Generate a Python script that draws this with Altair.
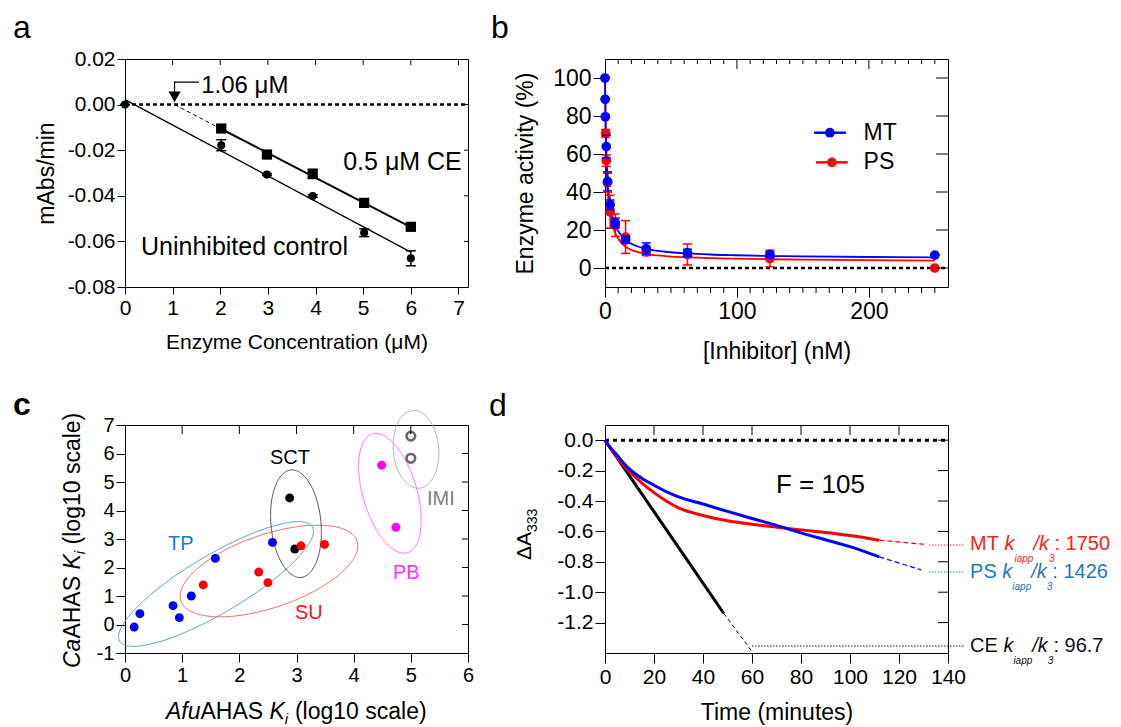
import altair as alt
import numpy as np
import pandas as pd

FONT = "Liberation Sans"
W, H = 343, 228

# ---------------- panel a data ----------------
a_ctrl_x = [0.0, 2.02, 2.98, 3.94, 5.02, 6.0]
a_ctrl_y = [0.0, -0.0178, -0.0307, -0.0401, -0.0562, -0.0674]
a_ctrl_err = [0.0, 0.0024, 0.0004, 0.0005, 0.0017, 0.0033]
a_ce_x = [2.02, 2.98, 3.94, 5.02, 6.0]
a_ce_y = [-0.0105, -0.0219, -0.0304, -0.0431, -0.0536]
a_ce_err = [0.0006, 0.0007, 0.0020, 0.0010, 0.0006]
a_fit_ctrl_x = [0.0, 6.0]
a_fit_ctrl_y = [0.0022, -0.0647]
a_fit_ce_x = [2.02, 6.0]
a_fit_ce_y = [-0.0107, -0.0537]
a_ext_x = [1.04, 2.02]
a_ext_y = [0.0, -0.0107]
a_xticks = [0, 1, 2, 3, 4, 5, 6, 7]
a_yticks = [-0.08, -0.06, -0.04, -0.02, 0.0, 0.02]

# ---------------- panel b data ----------------
b_mt_x = [0, 0.12, 0.24, 0.98, 1.95, 3.9, 7.8, 15.6, 31.25, 62.5, 125, 250]
b_mt_y = [100, 88.8, 79.6, 63.9, 45.6, 33.3, 23.7, 14.9, 10.2, 7.9, 7.0, 6.8]
b_mt_err = [0, 0, 0, 6, 5, 2.5, 2.6, 2.0, 3.0, 2.0, 1.5, 0]
b_ps_x = [0.49, 0.98, 1.95, 3.9, 7.8, 15.6, 31.25, 62.5, 125, 250]
b_ps_y = [70.9, 56.5, 44.9, 29.6, 22.5, 16.3, 8.5, 7.1, 5.0, 0.0]
b_ps_err = [2, 3, 5, 8.7, 5.9, 8.6, 2, 5.5, 4.4, 0]
b_curve_x = [0, 0.5, 1, 1.5, 2, 3, 4, 5, 6, 8, 10, 12, 15, 20, 25, 30, 40, 50, 60, 80, 100, 125, 150, 200, 250]
b_mt_curve = [100, 76, 62, 53, 46, 38, 32.5, 29, 26, 22, 19.5, 17.5, 15, 12.8, 11.3, 10.2, 9, 8.3, 7.8, 7.1, 6.7, 6.3, 6.1, 5.8, 5.6]
b_ps_curve = [100, 71, 56, 47, 41, 33, 28, 24.5, 22, 18, 15.5, 13.5, 11.5, 9.5, 8.4, 7.6, 6.6, 6.0, 5.7, 5.2, 4.9, 4.6, 4.4, 4.1, 3.9]
b_series = ["MT", "PS"]
b_colors = ["#0000ff", "#ff0000"]

# ---------------- panel c data ----------------
c_tp_x = [0.16, 0.26, 0.84, 0.95, 1.16, 1.58, 2.58]
c_tp_y = [-0.09, 0.38, 0.66, 0.24, 1.0, 2.32, 2.88]
c_su_x = [1.37, 2.34, 2.50, 3.08, 3.49]
c_su_y = [1.39, 1.84, 1.47, 2.76, 2.81]
c_sct_x = [2.88, 2.97]
c_sct_y = [4.44, 2.65]
c_pb_x = [4.49, 4.74]
c_pb_y = [5.59, 3.41]
c_imi_x = [5.0, 5.0]
c_imi_y = [6.61, 5.83]
ell_name = ["TP", "SU", "SCT", "PB", "IMI"]
ell_cx = [1.592, 2.519, 2.991, 4.635, 5.09]
ell_cy = [1.421, 1.877, 3.537, 4.604, 6.147]
ell_a = [112, 93, 54, 62, 39]          # semi-axes in screen px
ell_b = [29, 36.6, 25, 27, 22.7]
ell_ang = [30.7, 18.8, 95.3, 106.5, 95.0]
ell_color = ["#4a9ad8", "#f06060", "#444444", "#ff66ff", "#aaaaaa"]
c_lab_text = ["TP", "SCT", "SU", "PB", "IMI"]
c_lab_x = [0.752, 2.536, 2.974, 4.688, 5.283]
c_lab_y = [2.614, 5.632, 0.193, 1.596, 4.193]
c_lab_color = ["#1f78d0", "#000000", "#ff1010", "#ff33ff", "#808080"]

# ---------------- panel d data ----------------
d_ce_x = [0, 10, 20, 30, 40, 48.5]
d_ce_y = [0, -0.235, -0.47, -0.705, -0.94, -1.14]
d_ce_ext_x = [48.5, 59.6]
d_ce_ext_y = [-1.14, -1.382]
d_t = [0, 2.5, 5, 7.5, 10, 15, 20, 25, 30, 40, 50, 60, 70, 80, 90, 100, 112]
d_mt_y = [0, -0.06, -0.115, -0.165, -0.205, -0.28, -0.345, -0.40, -0.445, -0.495, -0.53, -0.553, -0.572, -0.59, -0.607, -0.627, -0.658]
d_ps_y = [0, -0.055, -0.10, -0.148, -0.19, -0.25, -0.296, -0.338, -0.373, -0.42, -0.468, -0.515, -0.56, -0.61, -0.655, -0.70, -0.768]
d_mt_ext_x = [112, 130.5]
d_mt_ext_y = [-0.658, -0.685]
d_ps_ext_x = [112, 129]
d_ps_ext_y = [-0.768, -0.853]
d_lab_name = ["MT", "PS", "CE"]
d_lab_value = ["1750", "1426", "96.7"]
d_lab_color = ["#ff2020", "#1f78c8", "#111111"]
d_lab_y = [-0.722, -0.907, -1.393]
d_lead_x0 = [132.2, 132.2, 60.0]
d_lead_x1 = [146.5, 146.5, 146.5]
d_lead_y = [-0.690, -0.867, -1.354]
d_lab_x = 149.0

ONE = pd.DataFrame({"k": [0]})


def df(**cols):
    return pd.DataFrame(cols)


def neg_fmt(p):
    return f"(datum.value < 0 ? '-' : '') + format(abs(datum.value), '{p}')"


def axis(values, size, tick, label_expr=None, title="", tsize=23, tx=None, ty=None, pad=3):
    kw = dict(values=values, tickSize=tick, labelFontSize=size, labelPadding=pad,
              labelFont=FONT, titleFont=FONT, titleFontWeight="normal", grid=False,
              domain=False, tickColor="black", labelColor="black", titleColor="black",
              title=title, titleFontSize=tsize, labelFlush=False, labelOverlap=False)
    if label_expr:
        kw["labelExpr"] = label_expr
    if title:
        kw["titleBaseline"] = "alphabetic"
        if tx is not None:
            kw["titleX"] = tx
        if ty is not None:
            kw["titleY"] = ty
    return alt.Axis(**kw)


class Panel:
    def __init__(self, xs, ys, ax, ay):
        self.xs, self.ys, self.ax, self.ay = xs, ys, ax, ay

    def X(self, f):
        return alt.X(f"{f}:Q", scale=self.xs, axis=self.ax)

    def Y(self, f):
        return alt.Y(f"{f}:Q", scale=self.ys, axis=self.ay)

    def hline(self, x0, x1, y, width=2.5, dash=(4, 3), color="black"):
        return alt.Chart(df(x0=[x0], x1=[x1], y=[y])).mark_rule(
            color=color, strokeWidth=width, strokeDash=list(dash)).encode(
            x=self.X("x0"), x2="x1:Q", y=self.Y("y"))

    def line(self, xv, yv, color="black", width=1.5, dash=None, interp="linear"):
        kw = dict(color=color, strokeWidth=width, interpolate=interp)
        if dash:
            kw["strokeDash"] = dash
        return alt.Chart(df(x=xv, y=yv, o=list(range(len(xv))))).mark_line(**kw).encode(
            x=self.X("x"), y=self.Y("y"), order="o:Q")

    def errbars(self, xv, yv, ev, color, cap):
        lo = [y - e for y, e in zip(yv, ev)]
        hi = [y + e for y, e in zip(yv, ev)]
        r = alt.Chart(df(x=xv, lo=lo, hi=hi)).mark_rule(color=color, strokeWidth=1.5).encode(
            x=self.X("x"), y=self.Y("lo"), y2="hi:Q")
        c = alt.Chart(df(x=xv + xv, yc=lo + hi)).mark_tick(
            orient="horizontal", size=cap, thickness=1.5, color=color, opacity=1).encode(
            x=self.X("x"), y=self.Y("yc"))
        return [r, c]

    def points(self, xv, yv, color, size, shape="circle", filled=True, sw=1):
        return alt.Chart(df(x=xv, y=yv)).mark_point(
            shape=shape, filled=filled, size=size, color=color, opacity=1, strokeWidth=sw).encode(
            x=self.X("x"), y=self.Y("y"))

    def text(self, s, x, y, size, color="black", style="normal", dx=0, dy=0, baseline="alphabetic"):
        return alt.Chart(df(x=[x], y=[y])).mark_text(
            text=s, font=FONT, fontSize=size, color=color, fontStyle=style, align="left",
            baseline=baseline, dx=dx, dy=dy).encode(x=self.X("x"), y=self.Y("y"))

    def top_ticks(self, vals, length):
        return alt.Chart(df(v=vals)).mark_rule(color="black", strokeWidth=1).encode(
            x=self.X("v"), y=alt.value(0), y2=alt.value(length))

    def bottom_ticks(self, vals, length):
        return alt.Chart(df(v=vals)).mark_rule(color="black", strokeWidth=1).encode(
            x=self.X("v"), y=alt.value(H), y2=alt.value(H + length))

    def right_ticks(self, vals, length):
        return alt.Chart(df(v=vals)).mark_rule(color="black", strokeWidth=1).encode(
            y=self.Y("v"), x=alt.value(W - length), x2=alt.value(W))


def vtext(s, x, y, size, color="black", style="normal", weight="normal", angle=0):
    return alt.Chart(ONE).mark_text(
        text=s, font=FONT, fontSize=size, color=color, fontStyle=style,
        fontWeight=weight, align="left", baseline="alphabetic", angle=angle
    ).encode(x=alt.value(x), y=alt.value(y))


# ================= panel a =================
A = Panel(alt.Scale(domain=[0, 7.2], nice=False, zero=False),
          alt.Scale(domain=[-0.08, 0.02], nice=False, zero=False),
          axis(a_xticks, 21, 7, title="Enzyme Concentration (μM)", tsize=21, ty=61),
          axis(a_yticks, 21, 8, label_expr=neg_fmt(".2f"), title="mAbs/min", tsize=23, tx=-72, pad=2))

a_layers = [
    A.hline(0, 7.2, 0),
    A.line(a_fit_ctrl_x, a_fit_ctrl_y, width=1.3),
    A.line(a_fit_ce_x, a_fit_ce_y, width=2),
    A.line(a_ext_x, a_ext_y, width=1, dash=[4, 3]),
]
a_layers += A.errbars(a_ctrl_x, a_ctrl_y, a_ctrl_err, "black", 10)
a_layers += A.errbars(a_ce_x, a_ce_y, a_ce_err, "black", 10)
a_layers += [
    A.points(a_ctrl_x, a_ctrl_y, "black", 65),
    A.points(a_ce_x, a_ce_y, "black", 105, shape="square"),
    A.points([1.04], [0.0034], "black", 150, shape="triangle-down"),
    A.line([1.04, 1.04, 1.55], [0.0055, 0.0099, 0.0099], width=1.2),
    A.text("1.06 μM", 1.6, 0.0051, 24),
    A.text("0.5 μM CE", 4.58, -0.0288, 25),
    A.text("Uninhibited control", 0.336, -0.066, 25),
    A.top_ticks([1, 2, 3, 4, 5, 6, 7], 6),
    A.right_ticks([-0.06, -0.04, -0.02, 0.0], 4),
    vtext("a", -112, -21, 32),
    alt.Chart(ONE).mark_rect(opacity=0).encode(
        x=alt.value(-116), x2=alt.value(-115), y=alt.value(-50), y2=alt.value(-49)),
]
pa = alt.layer(*a_layers).properties(width=W, height=H)

# ================= panel b =================
B = Panel(alt.Scale(domain=[0, 260], nice=False, zero=False),
          alt.Scale(domain=[-10, 110], nice=False, zero=False),
          axis([0, 100, 200], 23, 10, title="[Inhibitor] (nM)", tsize=23, ty=71),
          axis([0, 20, 40, 60, 80, 100], 23, 12, title="Enzyme activity (%)", tsize=23, tx=-73, pad=2))
minor_b = [v for v in range(10, 260, 10) if v not in (100, 200)]

b_layers = [
    B.hline(0, 260, 0),
    B.line(b_curve_x, b_ps_curve, color=b_colors[1], width=1.8, interp="monotone"),
    B.line(b_curve_x, b_mt_curve, color=b_colors[0], width=1.8, interp="monotone"),
]
b_layers += B.errbars(b_ps_x, b_ps_y, b_ps_err, b_colors[1], 9)
b_layers += [B.points(b_ps_x, b_ps_y, b_colors[1], 95)]
b_layers += B.errbars(b_mt_x, b_mt_y, b_mt_err, b_colors[0], 9)
b_layers += [
    B.points(b_mt_x, b_mt_y, b_colors[0], 95),
    # legend
    B.line([158.5, 182.6], [71.2, 71.2], color=b_colors[0], width=2.5),
    B.line([160, 184], [55.6, 55.6], color=b_colors[1], width=2.5),
    B.points([170.5], [71.2], b_colors[0], 95),
    B.points([172], [55.6], b_colors[1], 95),
    B.text(b_series[0], 196, 71.2, 23, baseline="middle"),
    B.text(b_series[1], 196, 55.6, 23, baseline="middle"),
    B.top_ticks(minor_b, 5),
    B.top_ticks([100, 200], 10),
    B.bottom_ticks(minor_b, 6),
    B.right_ticks([0, 20, 40, 60, 80, 100], 12),
    vtext("b", -114, -21, 32),
]
pb = alt.layer(*b_layers).properties(width=W, height=H)

# ================= panel c =================
C = Panel(alt.Scale(domain=[0, 6], nice=False, zero=False),
          alt.Scale(domain=[-1, 7], nice=False, zero=False),
          axis([0, 1, 2, 3, 4, 5, 6], 20, 9),
          axis([-1, 0, 1, 2, 3, 4, 5, 6, 7], 20, 9, label_expr=neg_fmt("d"), pad=2))

sx, sy = W / 6.0, H / 8.0
tt = np.linspace(0, 2 * np.pi, 145)
c_layers = []
for n, cx, cy, a, b, ang, col in zip(ell_name, ell_cx, ell_cy, ell_a, ell_b, ell_ang, ell_color):
    p = np.deg2rad(ang)
    ex = a * np.cos(tt) * np.cos(p) - b * np.sin(tt) * np.sin(p)
    ey = a * np.cos(tt) * np.sin(p) + b * np.sin(tt) * np.cos(p)
    c_layers.append(C.line(list(cx + ex / sx), list(cy + ey / sy), color=col, width=0.9))
c_layers += [
    C.points(c_tp_x, c_tp_y, "#0000ff", 80),
    C.points(c_sct_x, c_sct_y, "#000000", 80),
    C.points(c_su_x, c_su_y, "#ff0000", 80),
    C.points(c_pb_x, c_pb_y, "#ff00ff", 80),
    C.points(c_imi_x, c_imi_y, "#666666", 75, filled=False, sw=2.6),
]
for t, x, y, col in zip(c_lab_text, c_lab_x, c_lab_y, c_lab_color):
    c_layers.append(C.text(t, x, y, 20, color=col))
c_layers += [
    C.top_ticks([1, 2, 3, 4, 5], 9),
    C.right_ticks([0, 1, 2, 3, 4, 5, 6], 6),
    # composite axis titles
    vtext("Ca", -45, 243, 23, style="italic", angle=270),
    vtext("AHAS", -45, 213.6, 23, angle=270),
    vtext("K", -45, 144.6, 23, style="italic", angle=270),
    vtext("i", -40, 129.3, 15, style="italic", angle=270),
    vtext("(log10 scale)", -45, 119.4, 23, angle=270),
    vtext("Afu", 41, 294, 23, style="italic"),
    vtext("AHAS", 75.5, 294, 23),
    vtext("K", 144.5, 294, 23, style="italic"),
    vtext("i", 159.8, 299, 15, style="italic"),
    vtext("(log10 scale)", 169.9, 294, 23),
    vtext("c", -112, -10, 32, weight="bold"),
]
pc = alt.layer(*c_layers).properties(width=W, height=H)

# ================= panel d =================
D = Panel(alt.Scale(domain=[0, 140], nice=False, zero=False),
          alt.Scale(domain=[-1.4, 0.1], nice=False, zero=False),
          axis([0, 20, 40, 60, 80, 100, 120, 140], 21, 10, title="Time (minutes)", tsize=23, ty=66),
          axis([0, -0.2, -0.4, -0.6, -0.8, -1.0, -1.2], 21, 10, label_expr=neg_fmt(".1f"), pad=2))

AW = {'M': .833, 'T': .611, ' ': .278, 'P': .667, 'S': .667, 'C': .722, 'E': .667,
      'k': .5, 'i': .222, 'a': .556, 'p': .556, '/': .278, '3': .556}


def tw(s, size):
    return sum(AW.get(ch, .556) for ch in s) * size


d_layers = [
    D.hline(0, 140, 0, width=3, dash=(4, 4)),
    D.line(d_ce_x, d_ce_y, width=3),
    D.line(d_ce_ext_x, d_ce_ext_y, width=1, dash=[4, 3]),
    D.line(d_t, d_mt_y, color="#ff0000", width=3, interp="monotone"),
    D.line(d_mt_ext_x, d_mt_ext_y, color="#ff0000", width=1.2, dash=[5, 3]),
    D.line(d_t, d_ps_y, color="#0000ff", width=3, interp="monotone"),
    D.line(d_ps_ext_x, d_ps_ext_y, color="#0000ff", width=1.2, dash=[5, 3]),
    D.text("F = 105", 69.8, -0.347, 26),
]
for name, val, col, ly, x0, x1, lly in zip(d_lab_name, d_lab_value, d_lab_color, d_lab_y,
                                             d_lead_x0, d_lead_x1, d_lead_y):
    d_layers.append(D.hline(x0, x1, lly, width=1, dash=(1.5, 1.5), color=col))
    pieces = [(name + " ", 20, "normal", 0), ("k", 20, "italic", 0), ("iapp", 10, "italic", 12),
              ("/k", 20, "italic", 0), ("3", 10, "italic", 12), (": " + val, 20, "normal", 0)]
    off = 0.0
    for s, size, style, dy in pieces:
        d_layers.append(D.text(s.strip() if s.endswith(" ") else s, d_lab_x, ly, size,
                               color=col, style=style, dx=off, dy=dy))
        off += tw(s, size)
d_layers += [
    D.top_ticks([20, 40, 60, 80, 100, 120], 10),
    D.right_ticks([0, -0.2, -0.4, -0.6, -0.8, -1.0, -1.2], 10),
    vtext("ΔA", -74, 135, 21, angle=270),
    vtext("333", -68, 107, 14, angle=270),
    vtext("d", -116, -9, 32),
]
pd_ = alt.layer(*d_layers).properties(width=W, height=H)

chart = alt.concat(
    pa, pb, pc, pd_, columns=2,
    spacing=alt.RowColnumber(row=138, column=137),
    bounds="flush", padding=0,
).configure_view(stroke="black", strokeWidth=1).configure_axis(
    labelFont=FONT, titleFont=FONT, grid=False, domain=False
)

chart.save("out.html", embed_options={"renderer": "svg", "actions": False})
